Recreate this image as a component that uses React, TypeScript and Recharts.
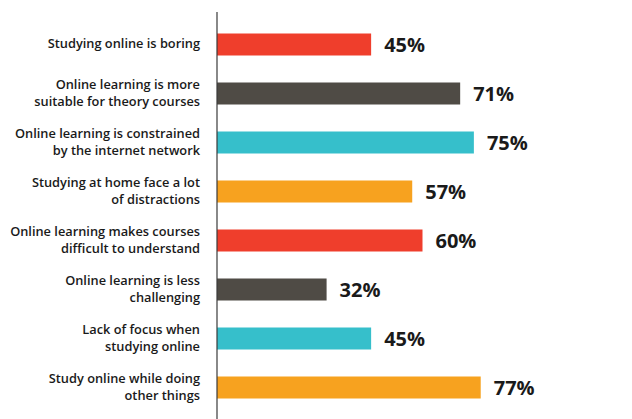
import React from 'react';
import { BarChart, Bar, XAxis, YAxis, LabelList, Cell } from 'recharts';

const categories = [
  'Studying online is boring',
  'Online learning is more\nsuitable for theory courses',
  'Online learning is constrained\nby the internet network',
  'Studying at home face a lot\nof distractions',
  'Online learning makes courses\ndifficult to understand',
  'Online learning is less\nchallenging',
  'Lack of focus when\nstudying online',
  'Study online while doing\nother things',
];
const values = [45, 71, 75, 57, 60, 32, 45, 77];
const colors = ['#EF3E2C', '#4F4B45', '#36BFCB', '#F7A21F', '#EF3E2C', '#4F4B45', '#36BFCB', '#F7A21F'];

const data = categories.map((name, i) => ({ name, value: values[i] }));

const CatTick = (props: any) => {
  const { x, y, payload } = props;
  const lines = String(payload.value).split('\n');
  const lh = 16.5;
  const start = -((lines.length - 1) * lh) / 2;
  return (
    <text
      x={x}
      y={y}
      textAnchor="end"
      fontFamily="'Open Sans', sans-serif"
      fontWeight={600}
      fontSize={12.8}
      fill="#1a1a1a"
    >
      {lines.map((l, i) => (
        <tspan key={i} x={x} y={y + start + i * lh} dy="0.35em">
          {l}
        </tspan>
      ))}
    </text>
  );
};

export default function App() {
  return (
    <div style={{ position: 'absolute', left: 0, top: 0, background: '#fff' }}>
      <BarChart
        width={632}
        height={419}
        data={data}
        layout="vertical"
        margin={{ top: 12, right: 72.5, bottom: 0, left: 0 }}
        barCategoryGap={0}
      >
        <XAxis type="number" domain={[0, 100]} hide />
        <YAxis
          type="category"
          dataKey="name"
          width={217}
          axisLine={{ stroke: '#3a3a3a', strokeWidth: 1.2 }}
          tickLine={false}
          tick={<CatTick />}
          tickMargin={11}
          interval={0}
          padding={{ top: 7.5, bottom: 7.5 }}
        />
        <Bar dataKey="value" barSize={22} isAnimationActive={false}>
          {data.map((d, i) => (
            <Cell key={i} fill={colors[i]} />
          ))}
          <LabelList
            dataKey="value"
            position="right"
            offset={13}
            formatter={(v: any) => `${v}%`}
            style={{ fontFamily: "'Open Sans', sans-serif", fontWeight: 700, fontSize: 20, fill: '#1a1a1a' }}
          />
        </Bar>
      </BarChart>
    </div>
  );
}
